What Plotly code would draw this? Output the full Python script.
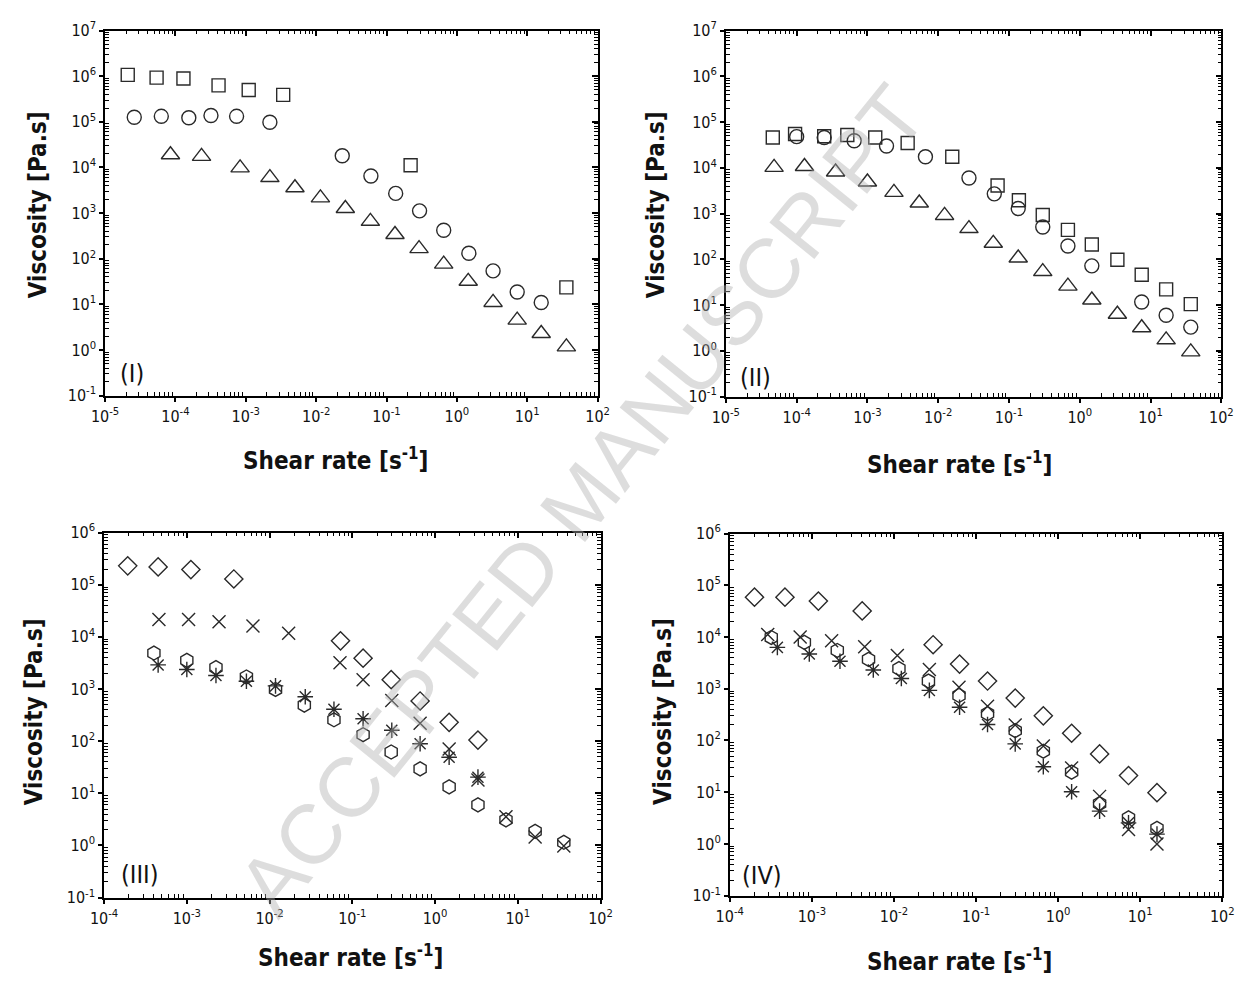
import plotly.graph_objects as go

W, H = 1249, 981

# ---------------- Panel I ----------------
p1_sq_x = [2.1e-5, 5.4e-5, 1.3e-4, 4.1e-4, 1.1e-3, 3.4e-3, 0.22, 36]
p1_sq_y = [1.07e6, 9.3e5, 8.9e5, 6.3e5, 5.0e5, 3.9e5, 1.12e4, 23.5]
p1_ci_x = [2.6e-5, 6.3e-5, 1.55e-4, 3.2e-4, 7.4e-4, 2.2e-3, 0.0235, 0.060, 0.135, 0.295, 0.65, 1.48, 3.27, 7.2, 15.8]
p1_ci_y = [1.26e5, 1.32e5, 1.23e5, 1.38e5, 1.32e5, 9.8e4, 1.8e4, 6.5e3, 2.7e3, 1.12e3, 4.2e2, 1.32e2, 54, 18.6, 11]
p1_tr_x = [8.5e-5, 2.35e-4, 8.3e-4, 2.2e-3, 5.0e-3, 0.0115, 0.026, 0.059, 0.132, 0.29, 0.65, 1.45, 3.27, 7.2, 15.8, 36]
p1_tr_y = [1.9e4, 1.75e4, 9.8e3, 6.0e3, 3.6e3, 2.15e3, 1.26e3, 6.6e2, 3.4e2, 1.66e2, 76, 32, 11, 4.5, 2.3, 1.17]

# ---------------- Panel II ----------------
p2_sq_x = [4.6e-5, 9.5e-5, 2.45e-4, 5.2e-4, 1.29e-3, 3.7e-3, 0.0158, 0.069, 0.138, 0.30, 0.68, 1.48, 3.4, 7.5, 16.6, 37]
p2_sq_y = [4.6e4, 5.5e4, 4.9e4, 5.2e4, 4.6e4, 3.5e4, 1.74e4, 4.1e3, 1.95e3, 9.3e2, 4.4e2, 2.1e2, 98, 46, 22, 10.5]
p2_ci_x = [1.0e-4, 2.45e-4, 6.5e-4, 1.86e-3, 6.6e-3, 0.0272, 0.062, 0.135, 0.30, 0.68, 1.48, 7.5, 16.6, 37]
p2_ci_y = [4.8e4, 4.6e4, 3.9e4, 3.0e4, 1.74e4, 6.0e3, 2.7e3, 1.29e3, 5.1e2, 1.95e2, 72, 11.7, 6.0, 3.3]
p2_tr_x = [4.8e-5, 1.29e-4, 3.55e-4, 1.0e-3, 2.37e-3, 5.4e-3, 0.0123, 0.0272, 0.060, 0.135, 0.30, 0.68, 1.48, 3.4, 7.5, 16.6, 37]
p2_tr_y = [1.02e4, 1.07e4, 8.1e3, 4.9e3, 2.9e3, 1.7e3, 9.1e2, 4.7e2, 2.24e2, 1.07e2, 54, 26, 12.9, 6.3, 3.2, 1.74, 0.95]

# ---------------- Panel III ----------------
p3_di_x = [1.93e-4, 4.5e-4, 1.12e-3, 3.7e-3, 0.072, 0.135, 0.295, 0.66, 1.48, 3.3]
p3_di_y = [2.3e5, 2.2e5, 1.95e5, 1.29e5, 8.4e3, 3.9e3, 1.51e3, 5.9e2, 2.3e2, 105]
p3_xx_x = [4.6e-4, 1.05e-3, 2.45e-3, 6.3e-3, 0.017, 0.071, 0.135, 0.30, 0.66, 1.48, 3.3, 7.2, 16.2, 36]
p3_xx_y = [2.15e4, 2.15e4, 1.95e4, 1.62e4, 1.17e4, 3.2e3, 1.51e3, 6.0e2, 2.2e2, 71, 18, 3.55, 1.45, 0.98]
p3_hx_x = [4.0e-4, 1.0e-3, 2.25e-3, 5.25e-3, 0.0118, 0.0263, 0.060, 0.135, 0.295, 0.66, 1.48, 3.3, 7.2, 16.2, 36]
p3_hx_y = [4.9e3, 3.55e3, 2.57e3, 1.7e3, 9.8e2, 4.9e2, 2.57e2, 1.33e2, 62, 29.5, 13.3, 6.0, 3.1, 1.86, 1.15]
p3_as_x = [4.5e-4, 1.0e-3, 2.25e-3, 5.25e-3, 0.0118, 0.027, 0.060, 0.135, 0.30, 0.66, 1.48, 3.3]
p3_as_y = [2.9e3, 2.37e3, 1.82e3, 1.41e3, 1.15e3, 7.1e2, 4.1e2, 2.7e2, 1.62e2, 89, 49, 20.4]

# ---------------- Panel IV ----------------
p4_di_x = [2.0e-4, 4.7e-4, 1.2e-3, 4.1e-3, 0.030, 0.063, 0.138, 0.30, 0.66, 1.46, 3.2, 7.2, 16]
p4_di_y = [5.9e4, 5.9e4, 4.95e4, 3.2e4, 7.1e3, 3.0e3, 1.41e3, 6.6e2, 3.0e2, 1.38e2, 55, 21, 9.8]
p4_xx_x = [2.9e-4, 7.2e-4, 1.74e-3, 4.4e-3, 0.011, 0.027, 0.062, 0.138, 0.30, 0.66, 1.46, 3.2, 7.2, 16]
p4_xx_y = [1.12e4, 1.0e4, 8.5e3, 6.5e3, 4.4e3, 2.35e3, 1.07e3, 4.6e2, 2.0e2, 78, 29.5, 8.3, 1.9, 1.0]
p4_hx_x = [3.2e-4, 8.1e-4, 2.04e-3, 4.9e-3, 0.0115, 0.0263, 0.062, 0.138, 0.30, 0.66, 1.46, 3.2, 7.2, 16]
p4_hx_y = [9.8e3, 7.9e3, 5.5e3, 3.7e3, 2.45e3, 1.41e3, 7.4e2, 3.3e2, 1.55e2, 62, 24.5, 6.0, 3.2, 2.0]
p4_as_x = [3.8e-4, 9.3e-4, 2.2e-3, 5.6e-3, 0.0123, 0.027, 0.063, 0.138, 0.30, 0.66, 1.46, 3.2, 7.2, 16]
p4_as_y = [6.3e3, 4.7e3, 3.4e3, 2.3e3, 1.58e3, 9.3e2, 4.4e2, 2.04e2, 86, 31, 10.2, 4.3, 2.55, 1.55]

# axis tick exponents
x_exp_a = [-5, -4, -3, -2, -1, 0, 1, 2]
y_exp_a = [-1, 0, 1, 2, 3, 4, 5, 6, 7]
x_exp_b = [-4, -3, -2, -1, 0, 1, 2]
y_exp_b = [-1, 0, 1, 2, 3, 4, 5, 6]

MC = "#2a2a2a"
FAM = "DejaVu Sans Condensed, Liberation Sans Narrow, DejaVu Sans"
TICKFONT = dict(family=FAM, size=16, color="#111")
TITLEFONT = dict(family=FAM, size=24, color="#111")

# panel frames in pixels: (left, right, top, bottom)
frames = [
    (93, 596, 20, 393),
    (727, 1233, 20, 394),
    (92, 599, 533, 906),
    (731, 1234, 534, 904),
]


def px2x(p):
    return p / W


def px2y(p):
    return 1 - p / H


fig = go.Figure()


def add(xs, ys, sym, size, ax, lw=1.4):
    fig.add_trace(go.Scatter(
        x=xs, y=ys, mode="markers", xaxis=ax[0], yaxis=ax[1], showlegend=False,
        marker=dict(symbol=sym, size=size, color=MC, line=dict(width=lw, color=MC)),
    ))


add(p1_sq_x, p1_sq_y, "square-open", 13, ("x", "y"))
add(p1_ci_x, p1_ci_y, "circle-open", 14, ("x", "y"))
add(p1_tr_x, p1_tr_y, "triangle-up-open", 16, ("x", "y"))

add(p2_sq_x, p2_sq_y, "square-open", 13, ("x2", "y2"))
add(p2_ci_x, p2_ci_y, "circle-open", 14, ("x2", "y2"))
add(p2_tr_x, p2_tr_y, "triangle-up-open", 16, ("x2", "y2"))

add(p3_di_x, p3_di_y, "diamond-open", 14, ("x3", "y3"))
add(p3_xx_x, p3_xx_y, "x-thin-open", 13, ("x3", "y3"))
add(p3_hx_x, p3_hx_y, "hexagon-open", 14, ("x3", "y3"))
add(p3_as_x, p3_as_y, "asterisk-open", 13, ("x3", "y3"))

add(p4_di_x, p4_di_y, "diamond-open", 14, ("x4", "y4"))
add(p4_xx_x, p4_xx_y, "x-thin-open", 13, ("x4", "y4"))
add(p4_hx_x, p4_hx_y, "hexagon-open", 14, ("x4", "y4"))
add(p4_as_x, p4_as_y, "asterisk-open", 13, ("x4", "y4"))

layout = dict(
    width=W, height=H, margin=dict(l=0, r=0, t=0, b=0),
    paper_bgcolor="white", plot_bgcolor="white", showlegend=False,
)

ranges = [
    (x_exp_a, y_exp_a), (x_exp_a, y_exp_a), (x_exp_b, y_exp_b), (x_exp_b, y_exp_b)
]


def minor_vals(exps):
    return [k * 10.0 ** e for e in exps[:-1] for k in range(2, 10)]


for i, (fr, (xe, ye)) in enumerate(zip(frames, ranges)):
    n = i + 1
    s = "" if n == 1 else str(n)
    l, r, t, b = fr
    xd = [px2x(l), px2x(r)]
    yd = [px2y(b), px2y(t)]
    xr = [xe[0], xe[-1]]
    yr = [ye[0], ye[-1]]
    common = dict(type="log", showgrid=False, zeroline=False, linecolor="black", linewidth=1.5)
    xminor = dict(tickmode="array", tickvals=minor_vals(xe), ticks="inside", ticklen=4,
                  tickwidth=1, tickcolor="black", showgrid=False)
    yminor = dict(tickmode="array", tickvals=minor_vals(ye), ticks="inside", ticklen=4,
                  tickwidth=1, tickcolor="black", showgrid=False)
    layout["xaxis" + s] = dict(
        common, domain=xd, range=xr, anchor="y" + s,
        tickmode="array",
        tickvals=[10.0 ** e for e in xe], ticktext=["10<sup>%d</sup>" % e for e in xe],
        ticks="outside", ticklen=5, tickwidth=1.5, tickcolor="black", tickfont=TICKFONT,
        minor=xminor,
    )
    layout["yaxis" + s] = dict(
        common, domain=yd, range=yr, anchor="x" + s,
        tickmode="array",
        tickvals=[10.0 ** e for e in ye], ticktext=["10<sup>%d</sup>" % e for e in ye],
        ticks="outside", ticklen=4, tickwidth=1.5, tickcolor="black", tickfont=TICKFONT,
        minor=yminor,
    )
    # overlay axes (top / right) with inward ticks
    m = n + 4
    layout["xaxis%d" % m] = dict(
        common, domain=xd, range=xr, overlaying="x" + s, side="top", anchor="y" + s,
        tickmode="array", tickvals=[10.0 ** e for e in xe], showticklabels=False,
        ticks="inside", ticklen=6, tickwidth=1.5, tickcolor="black",
        minor=xminor,
    )
    layout["yaxis%d" % m] = dict(
        common, domain=yd, range=yr, overlaying="y" + s, side="right", anchor="x" + s,
        tickmode="array", tickvals=[10.0 ** e for e in ye], showticklabels=False,
        ticks="inside", ticklen=6, tickwidth=1.5, tickcolor="black",
        minor=yminor,
    )
    fig.add_trace(go.Scatter(x=[], y=[], xaxis="x%d" % m, yaxis="y%d" % m,
                             showlegend=False, hoverinfo="skip"))

fig.update_layout(**layout)

ann = []


def text(px, py, s, size=24, bold=True, angle=0, color="#111", fam=None):
    f = dict(TITLEFONT)
    f["size"] = size
    f["color"] = color
    if fam:
        f["family"] = fam
    ann.append(dict(
        x=px2x(px), y=px2y(py), xref="paper", yref="paper",
        text=("<b>%s</b>" % s) if bold else s, showarrow=False,
        xanchor="center", yanchor="middle", textangle=angle, font=f,
    ))


# axis titles
text(328, 458, "Shear rate [s<sup>-1</sup>]")
text(24, 198, "Viscosity [Pa.s]", angle=-90)
text(966, 462, "Shear rate [s<sup>-1</sup>]")
text(655, 198, "Viscosity [Pa.s]", angle=-90)
text(344, 966, "Shear rate [s<sup>-1</sup>]")
text(20, 716, "Viscosity [Pa.s]", angle=-90)
text(966, 970, "Shear rate [s<sup>-1</sup>]")
text(662, 716, "Viscosity [Pa.s]", angle=-90)

# panel labels
text(121, 370, "(I)", size=25, bold=False)
text(757, 375, "(II)", size=25, bold=False)
text(128, 882, "(III)", size=25, bold=False)
text(764, 883, "(IV)", size=25, bold=False)

# watermark
text(580, 500, "ACCEPTED MANUSCRIPT", size=84, bold=False, angle=-51,
     color="rgba(175,175,175,0.42)", fam="Liberation Sans, Arial, DejaVu Sans")

fig.update_layout(annotations=ann)

fig.write_html("out.html")
